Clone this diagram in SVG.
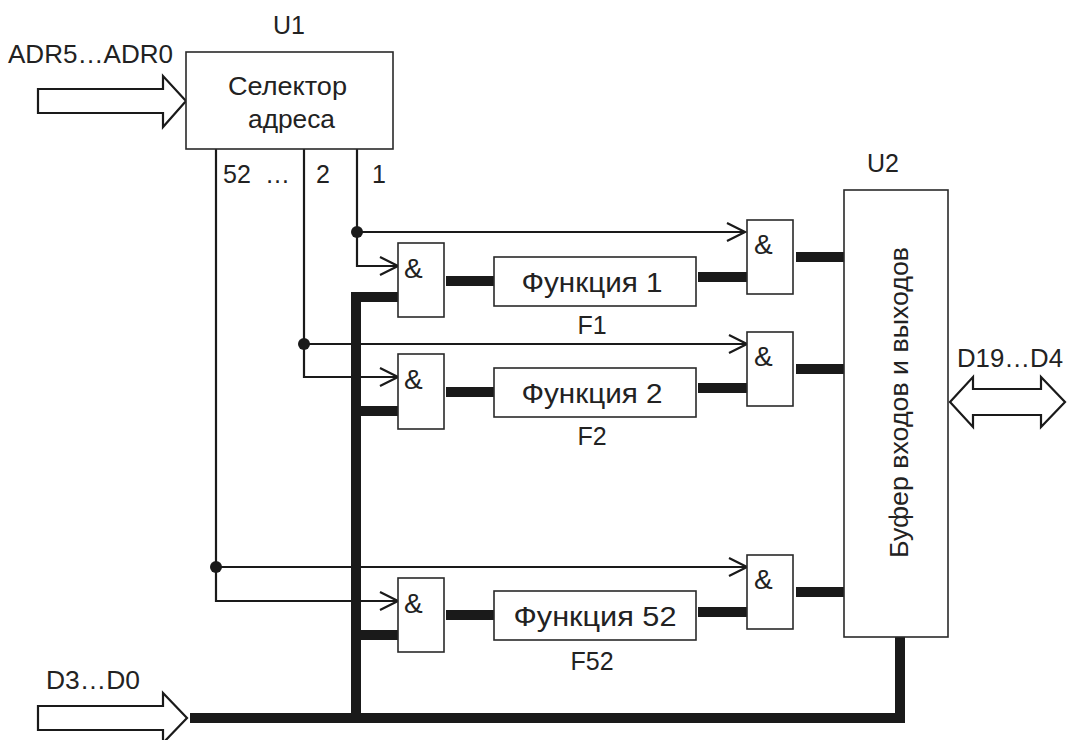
<svg xmlns="http://www.w3.org/2000/svg" width="1068" height="740" viewBox="0 0 1068 740">
<defs>
<marker id="arr" markerUnits="userSpaceOnUse" markerWidth="22" markerHeight="22" viewBox="0 0 22 22" refX="20" refY="10" orient="auto">
<path d="M2,1 L20,10 L2,19" fill="none" stroke="#1a1a1a" stroke-width="2.2"/>
</marker>
<style>
.box{fill:#fff;stroke:#2a2a2a;stroke-width:1.6}
.thin{fill:none;stroke:#1a1a1a;stroke-width:2.2}
.thick{fill:none;stroke:#1a1a1a;stroke-width:10}
.lbl{font-family:"Liberation Sans",Arial,sans-serif;font-size:25px;fill:#222}
.fn{font-family:"Liberation Sans",Arial,sans-serif;font-size:27px;fill:#222;text-anchor:middle}
.amp{font-family:"Liberation Sans",Arial,sans-serif;font-size:28px;fill:#222}
.dot{fill:#1a1a1a}
.bigarrow{fill:#fff;stroke:#1a1a1a;stroke-width:2.2;stroke-linejoin:miter}
</style>
</defs>
<rect width="1068" height="740" fill="#fff"/>

<g id="connectors">
<polyline class="thin" points="357,149 357,266 398,266" marker-end="url(#arr)"/>
<polyline class="thin" points="357,232 745,232" marker-end="url(#arr)"/>
<polyline class="thin" points="304,149 304,377 398,377" marker-end="url(#arr)"/>
<polyline class="thin" points="304,344 747,344" marker-end="url(#arr)"/>
<polyline class="thin" points="216,149 216,601 398,601" marker-end="url(#arr)"/>
<polyline class="thin" points="216,567 747,567" marker-end="url(#arr)"/>
<circle class="dot" cx="357" cy="232" r="6"/>
<circle class="dot" cx="304" cy="344" r="6"/>
<circle class="dot" cx="216" cy="567" r="6"/>
<polyline class="thick" points="190,718 900,718 900,637"/>
<polyline class="thick" points="356,723 356,297 398,297"/>
<line class="thick" x1="356" y1="411" x2="398" y2="411"/>
<line class="thick" x1="356" y1="635" x2="398" y2="635"/>
<line class="thick" x1="446" y1="281" x2="494" y2="281"/>
<line class="thick" x1="446" y1="392" x2="494" y2="392"/>
<line class="thick" x1="446" y1="615" x2="494" y2="615"/>
<line class="thick" x1="698" y1="277" x2="747" y2="277"/>
<line class="thick" x1="698" y1="388" x2="747" y2="388"/>
<line class="thick" x1="698" y1="612" x2="747" y2="612"/>
<line class="thick" x1="796" y1="257" x2="844" y2="257"/>
<line class="thick" x1="796" y1="369" x2="844" y2="369"/>
<line class="thick" x1="796" y1="592" x2="844" y2="592"/>
</g>

<g id="adr-input">
<path class="bigarrow" d="M38,89 L163,89 L163,76 L186,101 L163,127 L163,113 L38,113 Z"/>
<text class="lbl" x="8" y="63" textLength="165" lengthAdjust="spacingAndGlyphs">ADR5…ADR0</text>
</g>

<g id="d-input">
<path class="bigarrow" d="M38,706 L163,706 L163,693 L187,718 L163,743 L163,730 L38,730 Z"/>
<text class="lbl" x="46" y="689" textLength="94" lengthAdjust="spacingAndGlyphs">D3…D0</text>
</g>

<g id="d-io">
<path class="bigarrow" d="M950,402 L973,377 L973,389 L1041,389 L1041,377 L1065,402 L1041,427 L1041,415 L973,415 L973,427 Z"/>
<text class="lbl" x="957" y="367" textLength="106" lengthAdjust="spacingAndGlyphs">D19…D4</text>
</g>

<g id="U1">
<rect class="box" x="186" y="52" width="207" height="97"/>
<text class="lbl" x="289" y="34" text-anchor="middle">U1</text>
<text class="lbl" x="228" y="95" textLength="119" lengthAdjust="spacingAndGlyphs">Селектор</text>
<text class="lbl" x="248" y="128" textLength="87" lengthAdjust="spacingAndGlyphs">адреса</text>
<text class="lbl" x="223" y="183" textLength="67" xml:space="preserve">52  …</text>
<text class="lbl" x="316" y="183">2</text>
<text class="lbl" x="372" y="183">1</text>
</g>

<g id="U2">
<rect class="box" x="844" y="190" width="104" height="447"/>
<text class="lbl" x="883" y="172" text-anchor="middle">U2</text>
<text class="lbl" transform="translate(908,558) rotate(-90)" style="font-size:26px" textLength="311" lengthAdjust="spacingAndGlyphs">Буфер входов и выходов</text>
</g>

<g id="and-in-1"><rect class="box" x="398" y="243" width="46" height="74"/><text class="amp" x="404" y="278">&amp;</text></g>
<g id="and-in-2"><rect class="box" x="398" y="354" width="46" height="75"/><text class="amp" x="404" y="389">&amp;</text></g>
<g id="and-in-52"><rect class="box" x="398" y="578" width="46" height="74"/><text class="amp" x="404" y="613">&amp;</text></g>

<g id="func-1"><rect class="box" x="494" y="257" width="202" height="49"/><text class="fn" x="592" y="292" textLength="141" lengthAdjust="spacingAndGlyphs">Функция 1</text><text class="lbl" x="592" y="334" text-anchor="middle">F1</text></g>
<g id="func-2"><rect class="box" x="494" y="368" width="202" height="49"/><text class="fn" x="592" y="403" textLength="141" lengthAdjust="spacingAndGlyphs">Функция 2</text><text class="lbl" x="592" y="445" text-anchor="middle">F2</text></g>
<g id="func-52"><rect class="box" x="494" y="591" width="202" height="49"/><text class="fn" x="595" y="626" textLength="163" lengthAdjust="spacingAndGlyphs">Функция 52</text><text class="lbl" x="592" y="670" text-anchor="middle">F52</text></g>

<g id="and-out-1"><rect class="box" x="747" y="220" width="46" height="74"/><text class="amp" x="754" y="254">&amp;</text></g>
<g id="and-out-2"><rect class="box" x="747" y="332" width="46" height="74"/><text class="amp" x="754" y="366">&amp;</text></g>
<g id="and-out-52"><rect class="box" x="747" y="555" width="46" height="74"/><text class="amp" x="754" y="589">&amp;</text></g>
</svg>
